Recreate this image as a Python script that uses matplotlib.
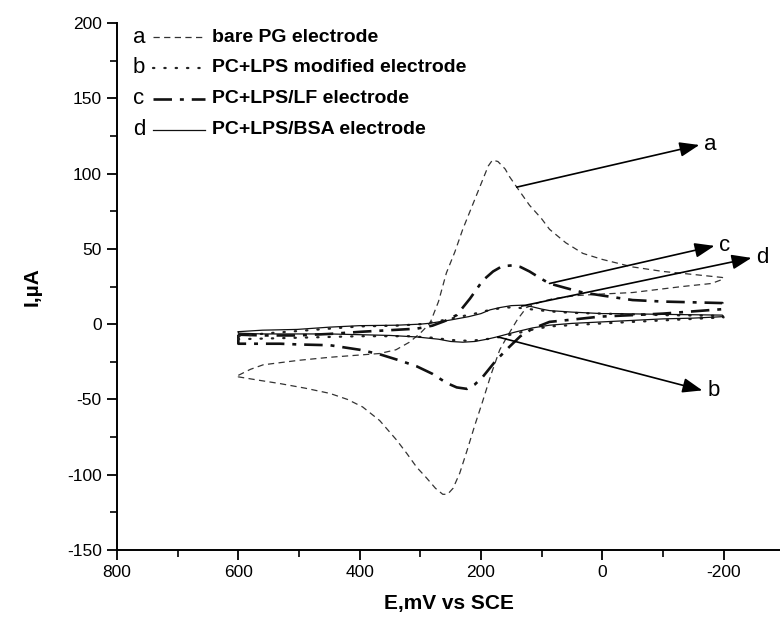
import numpy as np
import matplotlib
matplotlib.use("Agg")
import matplotlib.pyplot as plt
from matplotlib.ticker import MultipleLocator

plt.rcParams["font.family"] = ["Liberation Sans", "DejaVu Sans"]
plt.rcParams["axes.unicode_minus"] = False

# ---------------- data (E in mV, I in uA) ----------------
# curve a : bare PG electrode (forward branch then return branch)
a_up_x = [600, 580, 559, 500, 449, 400, 367, 340, 318, 300, 284, 270, 257, 243, 230, 213, 197, 188, 181,
          172, 160, 153, 141, 120, 100, 87, 60, 32, 0, -50, -100, -150, -198]
a_up_y = [-34, -30, -27, -24, -22, -20.5, -19.5, -17, -12, -6, 0.6, 15, 34, 48, 63, 80, 96, 105, 109,
          108, 103, 98, 91, 79, 70, 63, 54, 47, 43, 38, 35, 33, 31]
a_dn_x = [-200, -180, -132, -50, 0, 42, 80, 100, 125, 140, 155, 169, 183, 197, 210, 223, 235, 246, 255,
          263, 275, 290, 306, 322, 339, 367, 395, 420, 449, 490, 531, 570, 600]
a_dn_y = [30, 27, 25, 21, 20, 19, 17, 15, 11, 3, -7, -17, -33, -51, -67, -84, -99, -109, -113,
          -113, -109, -102, -95, -86, -77, -64, -55, -50, -46, -42.5, -39.5, -37, -35]

# curve b : PC+LPS modified electrode
b_up_x = [600, 550, 500, 450, 400, 339, 300, 270, 240, 210, 185, 160, 145, 130, 110, 87, 50, 0, -100, -198]
b_up_y = [-8, -6, -4.5, -3, -1.5, -1, 0, 2, 4.5, 7, 9.5, 11, 11.2, 10.5, 9.5, 8.5, 7.5, 7, 6, 5.5]
b_dn_x = [-200, -100, 0, 87, 120, 145, 175, 200, 225, 250, 280, 320, 400, 500, 600]
b_dn_y = [4.5, 2.5, 0.5, -1.5, -4, -6.5, -9, -10.5, -11, -10.5, -9, -8, -8, -9, -10]

# curve c : PC+LPS/LF electrode
c_up_x = [600, 560, 503, 450, 395, 350, 306, 280, 260, 240, 218, 197, 180, 165, 149, 135, 120, 100, 87,
          60, 32, 0, -50, -100, -150, -198]
c_up_y = [-7, -7.5, -7.5, -6.5, -5, -4, -3, -1, 2, 6, 17, 29, 35, 38.5, 39, 38, 35, 30, 27,
          24, 21, 19, 16, 15, 14.5, 14]
c_dn_x = [-200, -150, -100, -50, 4, 50, 87, 115, 135, 153, 175, 197, 210, 223, 240, 257, 280, 306, 335,
          367, 400, 449, 500, 531, 570, 600]
c_dn_y = [10, 8.5, 7, 6, 5, 3, 1.5, -3, -8, -15, -24, -35, -40, -43, -42, -39, -33, -28, -24,
          -20, -17, -14, -13.5, -13, -13, -13]

# curve d : PC+LPS/BSA electrode
d_up_x = [600, 560, 503, 450, 400, 339, 300, 284, 251, 220, 200, 185, 169, 150, 131, 115, 100, 87, 50,
          0, -24, -100, -198]
d_up_y = [-5, -4, -3.5, -2, -1, -0.7, 0, 0.6, 2.7, 5, 7, 9.5, 11, 12.3, 12.6, 11.5, 10, 9, 8,
          7, 7, 6.5, 6]
d_dn_x = [-200, -150, -100, -50, 0, 50, 87, 115, 141, 160, 174, 190, 210, 230, 250, 270, 306, 350, 400,
          450, 500, 560, 600]
d_dn_y = [5, 4, 3.5, 2.5, 1.5, 0.5, -0.7, -2.5, -5, -7, -8.5, -10, -11.5, -12, -11.5, -10, -8.5, -7.5, -7,
          -6.5, -6.5, -6.5, -6]

curve_letters = ["a", "b", "c", "d"]
curve_names = ["bare PG electrode", "PC+LPS modified electrode",
               "PC+LPS/LF electrode", "PC+LPS/BSA electrode"]

# arrow: start point on the curve, arrow tip
arrow_start = {"a": (141, 91), "b": (172, -8.5), "c": (87, 27), "d": (133, 12)}
arrow_tip = {"a": (-160, 119), "b": (-165, -44), "c": (-185, 52), "d": (-246, 44)}

# ---------------- styles ----------------
styles = {
    "a": dict(color="#333333", lw=0.9, dashes=(5, 3.5)),
    "b": dict(color="#222222", lw=1.6, dashes=(0.6, 4.5), dash_capstyle="round"),
    "c": dict(color="#111111", lw=1.9, dashes=(7, 3, 1.5, 3)),
    "d": dict(color="#111111", lw=0.9),
}

curves = {
    "a": (a_up_x + a_dn_x, a_up_y + a_dn_y),
    "b": (b_up_x + b_dn_x, b_up_y + b_dn_y),
    "c": (c_up_x + c_dn_x, c_up_y + c_dn_y),
    "d": (d_up_x + d_dn_x, d_up_y + d_dn_y),
}

fig = plt.figure(figsize=(7.8, 6.27), dpi=100)
ax = fig.add_axes([0.15, 0.1228, 0.85, 0.8405])

for k in ["a", "c", "b", "d"]:
    xs, ys = curves[k]
    xs = xs + [xs[0]]
    ys = ys + [ys[0]]
    ax.plot(xs, ys, **styles[k])

ax.set_xlim(800, -293)
ax.set_ylim(-150, 200)

for s in ["top", "right"]:
    ax.spines[s].set_visible(False)
for s in ["left", "bottom"]:
    ax.spines[s].set_linewidth(1.4)

ax.xaxis.set_major_locator(MultipleLocator(200))
ax.xaxis.set_minor_locator(MultipleLocator(100))
ax.yaxis.set_major_locator(MultipleLocator(50))
ax.yaxis.set_minor_locator(MultipleLocator(25))
ax.tick_params(which="major", direction="out", length=7, width=1.3, labelsize=12.5, pad=4)
ax.tick_params(which="minor", direction="out", length=5, width=1.2)

ax.set_xlabel("E,mV vs SCE", fontsize=15, fontweight="bold", labelpad=10)
ax.set_ylabel("I,\u00b5A", fontsize=15, fontweight="bold", labelpad=18)

# legend drawn by hand, as in the original
rows_y = [0.973, 0.915, 0.856, 0.797]
for k, name, yy in zip(curve_letters, curve_names, rows_y):
    ax.text(0.024, yy, k, transform=ax.transAxes, fontsize=16, ha="left", va="center")
    ax.plot([0.054, 0.132], [yy, yy], transform=ax.transAxes, **styles[k])
    ax.text(0.143, yy, name, transform=ax.transAxes, fontsize=14, fontweight="bold",
            ha="left", va="center")

# arrows pointing to the curves
for k in curve_letters:
    ax.annotate("", xy=arrow_tip[k], xytext=arrow_start[k],
                arrowprops=dict(arrowstyle="-|>,head_length=0.8,head_width=0.3",
                                lw=1.2, color="k", mutation_scale=15, shrinkA=0, shrinkB=0))
    tx, ty = arrow_tip[k]
    ax.text(tx - 8, ty, k, fontsize=16, ha="left", va="center")

fig.savefig("out.png", dpi=100)
